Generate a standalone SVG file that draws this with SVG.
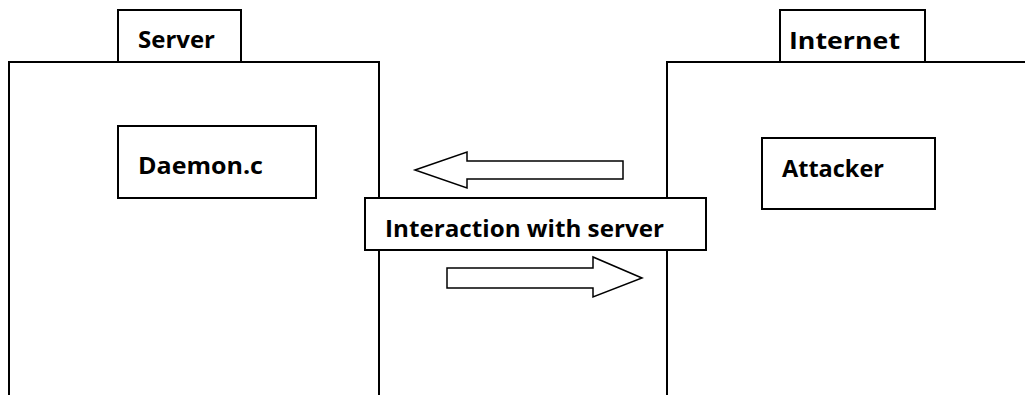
<svg xmlns="http://www.w3.org/2000/svg" width="1025" height="395" viewBox="0 0 1025 395">
<style>
.ln{fill:none;stroke:#000;stroke-width:2}
.bx{fill:#fff;stroke:#000;stroke-width:2}
.ar{fill:#fff;stroke:#000;stroke-width:1.5;stroke-linejoin:miter}
.t{font-family:"Open Sans","Liberation Sans",sans-serif;font-weight:700;font-size:23px;fill:#000}
</style>
<rect width="1025" height="395" fill="#fff"/>
<g id="server">
<path class="ln" d="M9,396 V62 H379 V396"/>
<rect class="bx" x="118" y="10" width="123" height="52"/>
<text class="t" x="138" y="48" textLength="77" lengthAdjust="spacingAndGlyphs">Server</text>
</g>
<g id="internet">
<path class="ln" d="M667,396 V62 H1027"/>
<rect class="bx" x="780" y="10" width="145" height="52"/>
<text class="t" x="789" y="49" textLength="111" lengthAdjust="spacingAndGlyphs">Internet</text>
</g>
<g id="daemon">
<rect class="bx" x="118" y="126" width="198" height="72"/>
<text class="t" x="138" y="174" textLength="125" lengthAdjust="spacingAndGlyphs">Daemon.c</text>
</g>
<g id="attacker">
<rect class="bx" x="762" y="138" width="173" height="71"/>
<text class="t" x="782" y="177" textLength="102" lengthAdjust="spacingAndGlyphs">Attacker</text>
</g>
<g id="connectors">
<polygon class="ar" points="415,170 467,152 467,161 623,161 623,179 467,179 467,188"/>
<polygon class="ar" points="642,278 593,257 593,268 447,268 447,288 593,288 593,297"/>
</g>
<g id="interaction">
<rect class="bx" x="365" y="198" width="341" height="52"/>
<text class="t" x="385" y="237" textLength="279" lengthAdjust="spacingAndGlyphs">Interaction with server</text>
</g>
</svg>
